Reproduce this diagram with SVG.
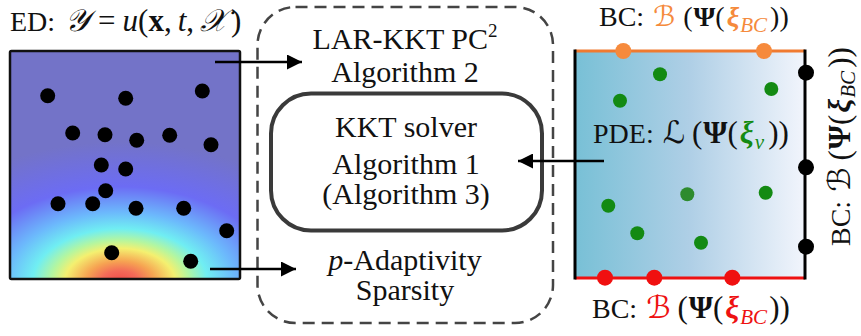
<svg xmlns="http://www.w3.org/2000/svg" width="861" height="336" viewBox="0 0 861 336">
  <style>
    .t { font-family: "Liberation Serif", "DejaVu Serif", serif; fill: #111; }
    .mid { text-anchor: middle; font-size: 30px; }
    .lbl { font-size: 28px; }
    .m { font-size: 31px; }
    .scr { font-family: "DejaVu Serif", "DejaVu Sans", serif; font-style: italic; font-size: 31px; }
    .top .m, .top .scr { font-size: 28px; }
    .it { font-style: italic; }
    .bf { font-weight: bold; }
    .bi { font-weight: bold; font-style: italic; }
    .sub { font-size: 21px; font-style: italic; }
    .dot { fill: #000; }
    .gdot { fill: #138a13; }
    .conn { stroke: #000; stroke-width: 2.5; fill: none; }
  </style>
  <defs>
    <marker id="head" viewBox="0 0 10 10" refX="10" refY="5" markerWidth="6.5" markerHeight="6" markerUnits="strokeWidth" orient="auto">
      <path d="M0,0 L10,5 L0,10 z" fill="#000"/>
    </marker>
    <radialGradient id="field" gradientUnits="userSpaceOnUse" cx="0" cy="0" r="1" gradientTransform="translate(120,282) scale(230,140)">
      <stop offset="0" stop-color="#f04848"/>
      <stop offset="0.08" stop-color="#f36a58"/>
      <stop offset="0.15" stop-color="#f6a452"/>
      <stop offset="0.24" stop-color="#f4f070"/>
      <stop offset="0.3" stop-color="#b4f6a0"/>
      <stop offset="0.38" stop-color="#70eef2"/>
      <stop offset="0.5" stop-color="#6cb8fc"/>
      <stop offset="0.68" stop-color="#6c6cf4"/>
      <stop offset="1" stop-color="#7373c8"/>
    </radialGradient>
    <linearGradient id="domain" x1="0" y1="0" x2="1" y2="0">
      <stop offset="0" stop-color="#78c0d6"/>
      <stop offset="0.5" stop-color="#afcfe6"/>
      <stop offset="1" stop-color="#f2f5fc"/>
    </linearGradient>
  </defs>

  <rect width="861" height="336" fill="#fff"/>

  <!-- experimental design: scattered samples over a response field -->
  <g id="ed-panel">
    <rect x="10" y="51" width="230" height="228" fill="url(#field)" stroke="#111" stroke-width="2.5" rx="1.5"/>
    <g class="dot">
      <circle cx="47.7" cy="95.7" r="7.5"/>
      <circle cx="125.7" cy="98.3" r="7.5"/>
      <circle cx="202.3" cy="91" r="7.5"/>
      <circle cx="72.7" cy="133" r="7.5"/>
      <circle cx="105" cy="134.7" r="7.5"/>
      <circle cx="136.7" cy="140.3" r="7.5"/>
      <circle cx="169.7" cy="135.3" r="7.5"/>
      <circle cx="211" cy="144.7" r="7.5"/>
      <circle cx="101.3" cy="165" r="7.5"/>
      <circle cx="125.7" cy="169" r="7.5"/>
      <circle cx="105.7" cy="190.7" r="7.5"/>
      <circle cx="58" cy="203.7" r="7.5"/>
      <circle cx="92.7" cy="203.7" r="7.5"/>
      <circle cx="136" cy="208.3" r="7.5"/>
      <circle cx="183.7" cy="208.3" r="7.5"/>
      <circle cx="226.7" cy="230.7" r="7.5"/>
      <circle cx="111.7" cy="252.7" r="7.5"/>
      <circle cx="190.7" cy="261.3" r="7.5"/>
    </g>
    <text class="t lbl" x="10" y="31">ED: <tspan class="scr" dx="3">𝒴</tspan><tspan class="m" dx="9">=</tspan><tspan class="m it" dx="7">u</tspan><tspan class="m">(</tspan><tspan class="m bf">x</tspan><tspan class="m">,</tspan><tspan class="m it" dx="6">t</tspan><tspan class="m">,</tspan><tspan class="scr" dx="6">𝒳</tspan><tspan class="m" dx="4">)</tspan></text>
  </g>

  <!-- outer method: LAR-KKT PC^2 -->
  <g id="lar-kkt">
    <rect x="257.5" y="7" width="295.5" height="316" rx="38" fill="none" stroke="#444" stroke-width="2.5" stroke-dasharray="12 7"/>
    <text class="t mid" x="405" y="49">LAR-KKT PC<tspan font-size="19" dy="-12">2</tspan></text>
    <text class="t mid" x="405" y="82">Algorithm 2</text>
    <text class="t mid" x="405" y="270"><tspan class="it">p</tspan>-Adaptivity</text>
    <text class="t mid" x="405" y="300">Sparsity</text>
  </g>

  <!-- inner solver -->
  <g id="kkt-solver">
    <rect x="271" y="93.5" width="271" height="137" rx="40" fill="#fff" stroke="#3a3a3a" stroke-width="4"/>
    <text class="t mid" x="406" y="136.5" font-size="34">KKT solver</text>
    <text class="t mid" x="406" y="174">Algorithm 1</text>
    <text class="t mid" x="406" y="204">(Algorithm 3)</text>
  </g>

  <!-- physical domain with collocation and boundary points -->
  <g id="pde-panel">
    <rect x="575" y="51" width="230" height="227" fill="url(#domain)"/>
    <line x1="575" y1="51" x2="805" y2="51" stroke="#f07a30" stroke-width="3"/>
    <line x1="575" y1="278" x2="805" y2="278" stroke="#ee1111" stroke-width="3"/>
    <line x1="575" y1="49.5" x2="575" y2="279.5" stroke="#000" stroke-width="3"/>
    <line x1="805" y1="49.5" x2="805" y2="279.5" stroke="#000" stroke-width="3"/>
    <g class="gdot">
      <circle cx="660" cy="74.3" r="7"/>
      <circle cx="620" cy="100.7" r="7"/>
      <circle cx="771.3" cy="89" r="7"/>
      <circle cx="687.3" cy="194.3" r="7" fill="#2e8b2e"/>
      <circle cx="608.3" cy="205.7" r="7"/>
      <circle cx="765.7" cy="192.7" r="7"/>
      <circle cx="637.3" cy="233.3" r="7"/>
      <circle cx="701" cy="242.7" r="7"/>
    </g>
    <g fill="#f68a3c">
      <circle cx="623.3" cy="51" r="8"/>
      <circle cx="764" cy="51" r="8"/>
    </g>
    <g fill="#000">
      <circle cx="806" cy="72.7" r="8"/>
      <circle cx="806" cy="167.3" r="8"/>
      <circle cx="806" cy="246.7" r="8"/>
    </g>
    <g fill="#f01010">
      <circle cx="605" cy="277.7" r="8"/>
      <circle cx="654.3" cy="277.7" r="8"/>
      <circle cx="732.3" cy="277.7" r="8"/>
    </g>
    <text class="t lbl" x="593" y="143">PDE: <tspan class="scr" dx="2">ℒ</tspan><tspan class="m" dx="7">(</tspan><tspan class="m bf" dx="1">Ψ</tspan><tspan class="m">(</tspan><tspan class="m bi" fill="#138a13" dx="2">ξ</tspan><tspan class="sub" fill="#138a13" dy="6" dx="1">ν</tspan><tspan class="m" dy="-6" dx="4">))</tspan></text>
    <text class="t lbl top" x="599" y="26">BC: <tspan class="scr" fill="#f58a3c" dx="2">ℬ</tspan><tspan class="m" dx="8">(</tspan><tspan class="m bf" dx="1">Ψ</tspan><tspan class="m">(</tspan><tspan class="m bi" fill="#f58a3c" dx="2">ξ</tspan><tspan class="sub" fill="#f58a3c" dy="6" dx="1">BC</tspan><tspan class="m" dy="-6" dx="3">))</tspan></text>
    <text class="t lbl" x="592" y="318">BC: <tspan class="scr" fill="#ee1111" dx="2">ℬ</tspan><tspan class="m" dx="7">(</tspan><tspan class="m bf" dx="1">Ψ</tspan><tspan class="m">(</tspan><tspan class="m bi" fill="#ee1111" dx="2">ξ</tspan><tspan class="sub" fill="#ee1111" dy="6" dx="1">BC</tspan><tspan class="m" dy="-6" dx="2">))</tspan></text>
    <text class="t lbl" transform="translate(850,246) rotate(-90)">BC: <tspan class="scr" dx="2">ℬ</tspan><tspan class="m" dx="7">(</tspan><tspan class="m bf" dx="1">Ψ</tspan><tspan class="m">(</tspan><tspan class="m bi" dx="2">ξ</tspan><tspan class="sub" dy="5" dx="1">BC</tspan><tspan class="m" dy="-5" dx="3">))</tspan></text>
  </g>

  <!-- connectors -->
  <g id="connectors" class="conn">
    <line x1="215" y1="62" x2="302" y2="62" marker-end="url(#head)"/>
    <line x1="210" y1="269" x2="296" y2="269" marker-end="url(#head)"/>
    <line x1="604" y1="161" x2="518" y2="161" marker-end="url(#head)"/>
  </g>
</svg>
